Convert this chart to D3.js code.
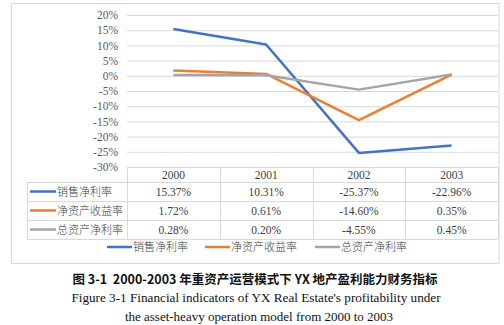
<!DOCTYPE html>
<html><head><meta charset="utf-8">
<script src="https://cdn.jsdelivr.net/npm/d3@7/dist/d3.min.js"></script>
<style>body{margin:0;background:#fff}svg{display:block}</style>
</head><body>
<script>
const years = ["2000","2001","2002","2003"];
const seriesNames = ["销售净利率","净资产收益率","总资产净利率"];
const salesMargin = [15.37, 10.31, -25.37, -22.96];
const roe = [1.72, 0.61, -14.60, 0.35];
const roa = [0.28, 0.20, -4.55, 0.45];
const yTicks = [20,15,10,5,0,-5,-10,-15,-20,-25,-30];
const colors = ["#4472C4","#ED7D31","#A5A5A5"];
const captionCN = "图 3-1  2000-2003 年重资产运营模式下 YX 地产盈利能力财务指标";
const captionEN1 = "Figure 3-1 Financial indicators of YX Real Estate's profitability under";
const captionEN2 = "the asset-heavy operation model from 2000 to 2003";

const series = [salesMargin, roe, roa];
const W = 504, H = 325;
const svg = d3.select("body").append("svg").attr("width", W).attr("height", H);

// outer frame
svg.append("rect").attr("x",11.5).attr("y",3.5).attr("width",487.5).attr("height",260)
  .attr("fill","#fff").attr("stroke","#d9d9d9");

const x = d3.scaleBand().domain(years).range([127, 498]);
const y = d3.scaleLinear().domain([-30, 20]).range([167, 15]);
const serif = "'Liberation Serif','Times New Roman',serif";
const cjk = "'Noto Sans CJK SC','Noto Sans',sans-serif";

// gridlines + y labels
const yAxis = d3.axisLeft(y).tickValues(yTicks).tickFormat(d => d + "%").tickSize(-(498-127)).tickPadding(9);
const ga = svg.append("g").attr("transform","translate(127,0)").call(yAxis);
ga.select(".domain").remove();
ga.selectAll(".tick line").attr("stroke","#d9d9d9").attr("stroke-width",1);
ga.selectAll(".tick text").attr("font-family",serif).attr("font-size",11.5).attr("fill","#595959");

// lines
const line = d3.line().x((d,i) => x(years[i]) + x.bandwidth()/2).y(d => y(d));
series.forEach((s, k) => {
  svg.append("path").datum(s).attr("d", line).attr("fill","none")
    .attr("stroke", colors[k]).attr("stroke-width", 2.5).attr("stroke-linejoin","round");
});

// data table
const rowTop = 182, rowH = 19, headTop = 167;
const tg = svg.append("g").attr("stroke","#d9d9d9").attr("fill","none");
tg.append("line").attr("x1",127).attr("x2",498).attr("y1",headTop+0.5).attr("y2",headTop+0.5);
for (let r = 0; r <= 3; r++) {
  const yy = rowTop + r*rowH + 0.5;
  tg.append("line").attr("x1",27).attr("x2",498).attr("y1",yy).attr("y2",yy);
}
x.domain().concat(["end"]).forEach((yr,i) => {
  const xx = Math.round(127 + i*x.bandwidth()) + 0.5;
  tg.append("line").attr("x1",xx).attr("x2",xx).attr("y1",headTop).attr("y2",rowTop+3*rowH);
});
tg.append("line").attr("x1",27.5).attr("x2",27.5).attr("y1",rowTop).attr("y2",rowTop+3*rowH);

// header
svg.selectAll(".hdr").data(years).enter().append("text")
  .attr("x", d => x(d) + x.bandwidth()/2).attr("y", headTop + 12)
  .attr("text-anchor","middle").attr("font-family",serif).attr("font-size",11.5).attr("fill","#404040")
  .text(d => d);

// rows
series.forEach((s, k) => {
  const cy = rowTop + k*rowH + rowH/2;
  svg.append("line").attr("x1",30).attr("x2",56).attr("y1",cy).attr("y2",cy)
    .attr("stroke",colors[k]).attr("stroke-width",2.5);
  svg.append("text").attr("x",57).attr("y",cy+4).attr("font-family",cjk).attr("font-size",11).attr("font-weight",300)
    .attr("fill","#404040").text(seriesNames[k]);
  svg.selectAll(null).data(s).enter().append("text")
    .attr("x",(d,i) => x(years[i]) + x.bandwidth()/2).attr("y", cy+4)
    .attr("text-anchor","middle").attr("font-family",serif).attr("font-size",11.5).attr("fill","#404040")
    .text(d => d.toFixed(2) + "%");
});

// legend
const legX = [107, 205, 315];
seriesNames.forEach((n,k) => {
  svg.append("line").attr("x1",legX[k]).attr("x2",legX[k]+25).attr("y1",247).attr("y2",247)
    .attr("stroke",colors[k]).attr("stroke-width",2.5);
  svg.append("text").attr("x",legX[k]+26).attr("y",251).attr("font-family",cjk).attr("font-size",11).attr("font-weight",300)
    .attr("fill","#404040").text(n);
});

// captions
svg.append("text").attr("x",255).attr("y",284).attr("text-anchor","middle")
  .attr("font-family",cjk).attr("font-size",12.5).attr("font-weight","bold").attr("fill","#111")
  .style("white-space","pre").text(captionCN);
svg.append("text").attr("x",256).attr("y",302).attr("text-anchor","middle")
  .attr("font-family",serif).attr("font-size",13.2).attr("fill","#111").text(captionEN1);
svg.append("text").attr("x",259).attr("y",321).attr("text-anchor","middle")
  .attr("font-family",serif).attr("font-size",13).attr("fill","#111").text(captionEN2);
</script>
</body></html>
